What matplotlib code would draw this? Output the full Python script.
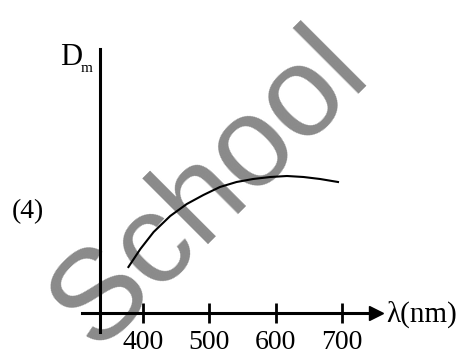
import matplotlib.pyplot as plt

# curve (wavelength in nm, D_m in arbitrary units)
wavelength = [378, 396, 416, 441, 466, 491, 516, 541, 566, 592, 617, 642, 667, 694]
d_m = [46, 64, 81, 97, 109, 118, 126, 131, 134, 136, 137, 136, 134, 131]
ticks = [400, 500, 600, 700]

plt.rcParams['font.family'] = 'Liberation Serif'

fig = plt.figure(figsize=(4.68, 3.54), dpi=100)
ax = fig.add_axes([82 / 468, 22 / 354, 294 / 468, 283 / 354])
ax.set_zorder(1)

# watermark
fig.text(210 / 468, 1 - 190 / 354, "School", family="Liberation Sans", fontsize=92,
         color="#8a8a8a", rotation=45, ha="center", va="center", zorder=0)

ax.plot(wavelength, d_m, color="black", lw=1.5)

ax.set_xlim(308, 751.3)
ax.set_ylim(-19, 264)
ax.spines['top'].set_visible(False)
ax.spines['right'].set_visible(False)
ax.spines['left'].set_position(('data', 334.4))
ax.spines['bottom'].set_position(('data', 0))
for s in ['left', 'bottom']:
    ax.spines[s].set_linewidth(2.2)
ax.patch.set_visible(False)

ax.set_yticks([])
ax.set_xticks(ticks)
ax.tick_params(axis='x', direction='inout', length=15, width=2, labelsize=20, pad=5)
ax.plot(1, 0, '>', color="black", ms=10, transform=ax.get_yaxis_transform(), clip_on=False)

fig.text(386 / 468, 1 - 322 / 354, "λ(nm)", fontsize=21, ha="left", va="baseline")
fig.text(12 / 468, 1 - 218 / 354, "(4)", fontsize=20, ha="left", va="baseline")
fig.text(60 / 468, 1 - 65 / 354, "D", fontsize=22, ha="left", va="baseline")
fig.text(81 / 468, 1 - 72 / 354, "m", fontsize=11, ha="left", va="baseline")

fig.savefig("out.png", dpi=100)
